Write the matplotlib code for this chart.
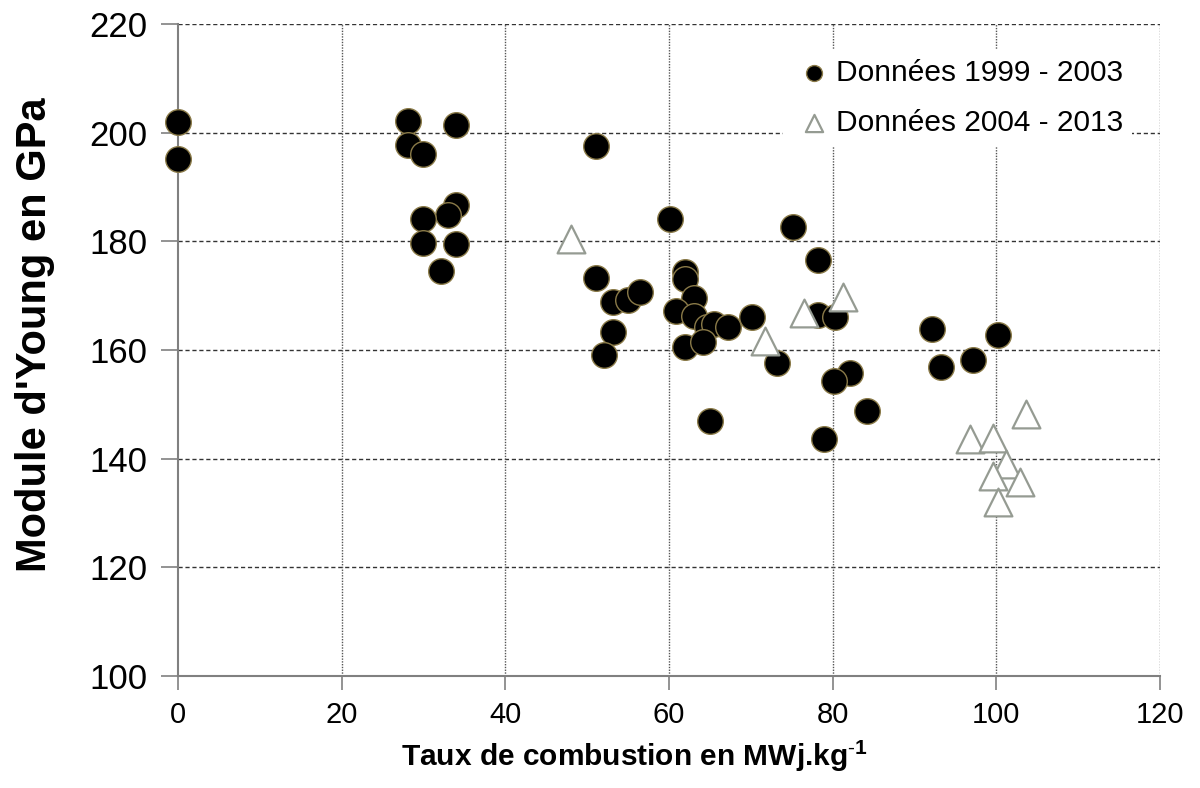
import matplotlib
matplotlib.use('Agg')
import matplotlib.pyplot as plt

plt.rcParams['font.family'] = ['Liberation Sans', 'DejaVu Sans']
plt.rcParams['mathtext.fontset'] = 'custom'
plt.rcParams['mathtext.rm'] = 'Liberation Sans'
plt.rcParams['mathtext.bf'] = 'Liberation Sans:bold'

# Données 1999 - 2003 (cercles noirs)
x_old = [0, 0, 28.1, 28.1, 30.0, 34.0, 34.0, 33.0, 30.0, 30.0, 34.0, 32.2,
         51.1, 60.1, 75.2, 51.1, 53.2, 55.0, 56.4, 53.2, 52.0, 62.0, 62.0,
         63.1, 60.9, 63.1, 64.7, 65.5, 67.2, 70.2, 61.9, 64.1, 73.2, 65.0,
         78.2, 78.2, 80.3, 82.1, 80.2, 84.2, 79.0, 92.1, 100.2, 93.2, 97.2]
y_old = [202.0, 195.2, 202.2, 197.8, 196.1, 201.4, 186.7, 184.9, 184.2, 179.7, 179.6, 174.6,
         197.6, 184.2, 182.7, 173.3, 168.9, 169.3, 170.7, 163.4, 159.0, 174.4, 173.0,
         169.6, 167.2, 166.2, 164.3, 164.7, 164.3, 166.0, 160.6, 161.4, 157.7, 147.0,
         176.6, 166.5, 166.0, 155.7, 154.3, 148.7, 143.7, 163.9, 162.7, 156.8, 158.2]

# Données 2004 - 2013 (triangles creux)
x_new = [48.0, 71.7, 76.5, 81.3, 103.6, 96.8, 99.6, 101.2, 99.6, 102.9, 100.2]
y_new = [180.5, 161.6, 166.9, 169.8, 148.3, 143.7, 143.9, 139.0, 136.9, 135.8, 132.1]

x_ticks = [0, 20, 40, 60, 80, 100, 120]
y_ticks = [100, 120, 140, 160, 180, 200, 220]

fig = plt.figure(figsize=(12, 7.88), dpi=100)
ax = fig.add_axes([0.1483, 0.1421, 0.8184, 0.8274])

ax.scatter(x_old, y_old, s=340, marker='o', facecolor='black',
           edgecolor='#8a7a48', linewidth=1.0, zorder=3, clip_on=False,
           label='Données 1999 - 2003')
ax.scatter(x_new, y_new, s=400, marker='^', facecolor='white',
           edgecolor='#959b92', linewidth=1.6, zorder=4, clip_on=False,
           label='Données 2004 - 2013')

ax.set_xlim(0, 120)
ax.set_ylim(100, 220)
ax.set_xticks(x_ticks)
ax.set_yticks(y_ticks)
ax.tick_params(axis='y', labelsize=25, length=12, width=1.2, color='#808080', pad=10)
ax.tick_params(axis='x', labelsize=21, length=10, width=1.2, color='#808080', pad=8)

for y in y_ticks[1:]:
    ax.axhline(y, color='#333333', linestyle=(0, (3, 2)), linewidth=1.0, zorder=1)
for x in x_ticks[1:]:
    ax.axvline(x, color='#555555', linestyle=(0, (1, 1)), linewidth=1.0, zorder=1)

for side in ['top', 'right']:
    ax.spines[side].set_visible(False)
for side in ['left', 'bottom']:
    ax.spines[side].set_color('#808080')
    ax.spines[side].set_linewidth(1.5)

ax.set_ylabel("Module d'Young en GPa", fontsize=30, fontweight='bold')
ax.yaxis.set_label_coords(-0.125, 0.523)
ax.set_xlabel(r'Taux de combustion en MWj.kg$^{\mathbf{\text{-}1}}$', fontsize=21.5,
              fontweight='bold')
ax.xaxis.set_label_coords(0.465, -0.095)

leg = ax.legend(loc='upper right', bbox_to_anchor=(0.978, 0.97), frameon=True,
                fontsize=21.5, markerscale=0.62, handletextpad=0.0, labelspacing=0.75,
                handlelength=1.5, borderaxespad=0.2, borderpad=0.3,
                facecolor='white', edgecolor='none', framealpha=1.0, fancybox=False)
leg.set_zorder(5)

fig.savefig('out.png', dpi=100)
